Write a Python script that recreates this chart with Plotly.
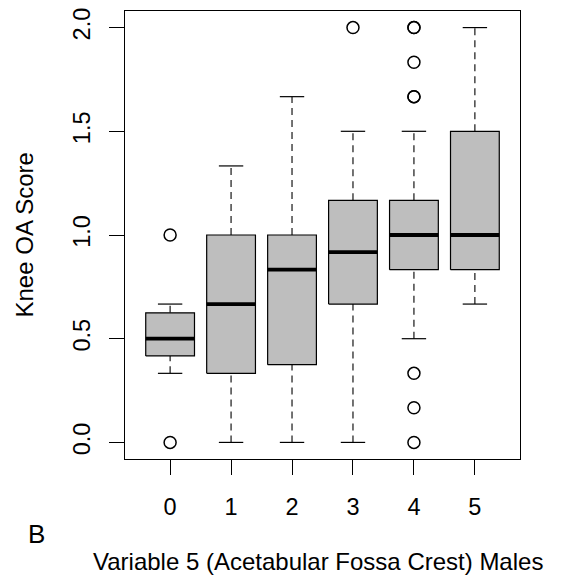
import plotly.graph_objects as go

# Knee OA score by acetabular fossa crest grade (males)
grades = [0, 1, 2, 3, 4, 5]
q1 = [0.417, 0.333, 0.375, 0.667, 0.833, 0.833]
medians = [0.5, 0.667, 0.833, 0.917, 1.0, 1.0]
q3 = [0.625, 1.0, 1.0, 1.167, 1.167, 1.5]
whisker_low = [0.333, 0.0, 0.0, 0.0, 0.5, 0.667]
whisker_high = [0.667, 1.333, 1.667, 1.5, 1.5, 2.0]
outlier_grade = [0, 0, 3, 4, 4, 4, 4, 4, 4, 4, 4]
outlier_score = [1.0, 0.0, 2.0, 2.0, 2.0, 1.833, 1.667, 1.667, 0.333, 0.167, 0.0]

y_ticks = [0.0, 0.5, 1.0, 1.5, 2.0]

FONT = "Liberation Sans, Arial, sans-serif"
HALF_BOX = 0.4
HALF_CAP = 0.2

fig = go.Figure()

# whiskers (dashed), drawn first so box bodies sit on top
wx, wy = [], []
for g, lo, a, b, hi in zip(grades, whisker_low, q1, q3, whisker_high):
    wx += [g, g, None, g, g, None]
    wy += [lo, a, None, b, hi, None]
fig.add_trace(go.Scatter(x=wx, y=wy, mode="lines",
                         line=dict(color="black", width=1.1, dash="7px,5px"),
                         hoverinfo="skip"))

# whisker caps
cx, cy = [], []
for g, lo, hi in zip(grades, whisker_low, whisker_high):
    cx += [g - HALF_CAP, g + HALF_CAP, None, g - HALF_CAP, g + HALF_CAP, None]
    cy += [lo, lo, None, hi, hi, None]
fig.add_trace(go.Scatter(x=cx, y=cy, mode="lines",
                         line=dict(color="black", width=1.2), hoverinfo="skip"))

# box bodies
for g, a, b in zip(grades, q1, q3):
    fig.add_trace(go.Scatter(
        x=[g - HALF_BOX, g + HALF_BOX, g + HALF_BOX, g - HALF_BOX, g - HALF_BOX],
        y=[a, a, b, b, a], mode="lines", fill="toself",
        fillcolor="#bebebe", line=dict(color="black", width=1.2),
        hoverinfo="skip"))

# medians
mx, my = [], []
for g, m in zip(grades, medians):
    mx += [g - HALF_BOX, g + HALF_BOX, None]
    my += [m, m, None]
fig.add_trace(go.Scatter(x=mx, y=my, mode="lines",
                         line=dict(color="black", width=3.8), hoverinfo="skip"))

# outliers
fig.add_trace(go.Scatter(x=outlier_grade, y=outlier_score, mode="markers",
                         marker=dict(symbol="circle-open", size=12, color="black",
                                     line=dict(width=1.5)),
                         hoverinfo="skip"))

fig.update_layout(
    width=561, height=581,
    margin=dict(l=125, r=41, t=8, b=122),
    paper_bgcolor="white", plot_bgcolor="white",
    showlegend=False,
    font=dict(family=FONT, size=23.5, color="black"),
)
fig.update_xaxes(
    range=[-0.74, 5.74], tickmode="array", tickvals=grades,
    ticktext=[str(g) for g in grades],
    showgrid=False, zeroline=False,
    showline=True, linecolor="black", linewidth=1, mirror=True,
    ticks="outside", ticklen=15, tickwidth=1, tickcolor="black",
    ticklabelstandoff=12,
)
fig.update_yaxes(
    range=[-0.08, 2.08], tickmode="array", tickvals=y_ticks,
    ticktext=[f"{v:.1f}" for v in y_ticks], tickangle=-90,
    showgrid=False, zeroline=False,
    showline=True, linecolor="black", linewidth=1, mirror=True,
    ticks="outside", ticklen=15, tickwidth=1, tickcolor="black",
    ticklabelstandoff=10,
)

fig.add_annotation(text="Knee OA Score", textangle=-90, showarrow=False,
                   xref="paper", yref="paper",
                   x=(24 - 125) / 395, y=(459 - 234) / 451,
                   xanchor="center", yanchor="middle",
                   font=dict(size=24))
fig.add_annotation(text="Variable 5 (Acetabular Fossa Crest) Males", showarrow=False,
                   xref="paper", yref="paper",
                   x=(317.5 - 125) / 395, y=(459 - 562) / 451,
                   xanchor="center", yanchor="middle",
                   font=dict(size=24))
fig.add_annotation(text="B", showarrow=False,
                   xref="paper", yref="paper",
                   x=(36 - 125) / 395, y=(459 - 535) / 451,
                   xanchor="center", yanchor="middle",
                   font=dict(size=26))

fig.write_html("out.html")
